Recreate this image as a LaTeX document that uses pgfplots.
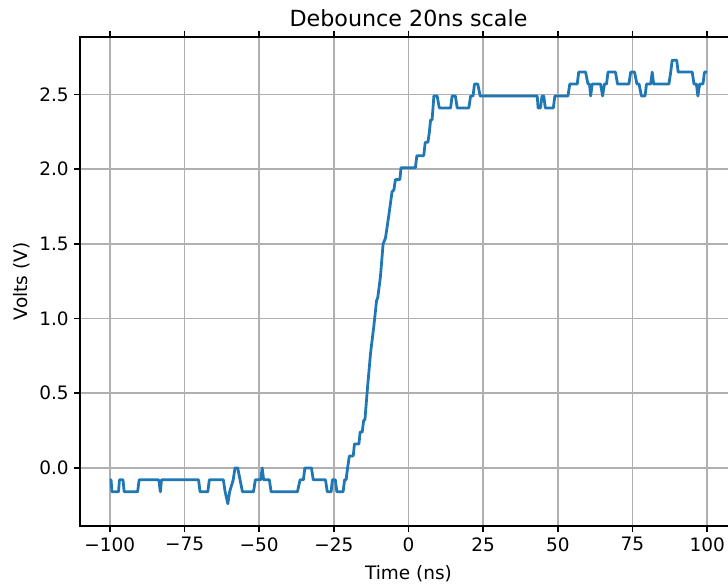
\documentclass[border=0pt]{standalone}
\usepackage{fontspec}
\setmainfont{DejaVu Sans}
\usepackage{pgfplots}
\pgfplotsset{compat=1.18}
\definecolor{mplblue}{HTML}{1F77B4}
\definecolor{gridgray}{HTML}{B0B0B0}
\begin{document}
\begin{tikzpicture}
\useasboundingbox (0pt,0pt) rectangle (524.16pt,420.48pt);
\clip (0pt,0pt) rectangle (524.16pt,420.48pt);
\begin{axis}[
  at={(57.6pt,41.76pt)}, anchor=south west,
  scale only axis, width=473.04pt, height=352.08pt,
  xmin=-110, xmax=110, ymin=-0.389, ymax=2.885,
  xtick={-100,-75,-50,-25,0,25,50,75,100},
  xticklabels={−100,−75,−50,−25,0,25,50,75,100},
  ytick={0,0.5,1,1.5,2,2.5},
  yticklabels={0.0,0.5,1.0,1.5,2.0,2.5},
  tick align=outside, major tick length=4.6pt,
  tick style={black, line width=1.05pt},
  tick label style={font=\fontsize{13.3}{15}\selectfont},
  axis line style={line width=1.05pt},
  grid=major, grid style={gridgray, line width=1.05pt},
  title={Debounce 20ns scale},
  title style={font=\fontsize{16}{19}\selectfont, yshift=-2pt},
  xlabel={Time (ns)}, ylabel={Volts (V)},
  label style={font=\fontsize{13.3}{15}\selectfont},
  xlabel style={yshift=-3pt},
  ylabel style={yshift=0pt},
]
\addplot[mplblue, line width=2pt, line join=round] coordinates {
(-100,-0.08) (-99.6,-0.08) (-99.3,-0.16) (-97.1,-0.16) (-96.8,-0.08) (-95.6,-0.08) (-95.2,-0.16) (-90.7,-0.16) (-90.2,-0.08) (-83.6,-0.08) (-83.1,-0.16) (-82.7,-0.08) (-70.3,-0.08) (-69.8,-0.16) (-67.2,-0.16) (-66.7,-0.08) (-62.0,-0.08) (-61.4,-0.16) (-60.5,-0.24) (-59.9,-0.16) (-58.7,-0.08) (-58.1,0.0) (-57.2,0.0) (-56.4,-0.08) (-55.6,-0.16) (-51.9,-0.16) (-51.3,-0.08) (-49.5,-0.08) (-49.0,0.0) (-48.5,-0.08) (-46.6,-0.08) (-46.0,-0.16) (-37.2,-0.16) (-36.3,-0.08) (-35.2,-0.08) (-34.7,0.0) (-32.5,0.0) (-31.9,-0.08) (-27.8,-0.08) (-27.2,-0.16) (-25.9,-0.16) (-25.5,-0.08) (-24.5,-0.08) (-24.0,-0.16) (-21.9,-0.16) (-21.4,-0.08) (-20.9,-0.08) (-20.4,0.0) (-19.8,0.08) (-18.5,0.08) (-18.1,0.16) (-16.6,0.16) (-16.2,0.24) (-15.5,0.24) (-15.0,0.32) (-14.6,0.32) (-13.8,0.52) (-12.7,0.77) (-11.6,0.95) (-10.7,1.12) (-10.3,1.14) (-9.4,1.28) (-8.5,1.50) (-7.7,1.54) (-6.6,1.69) (-5.5,1.85) (-4.9,1.86) (-4.4,1.93) (-2.9,1.93) (-2.5,2.01) (2.3,2.01) (2.8,2.09) (5.1,2.09) (5.6,2.18) (6.5,2.18) (7.0,2.25) (7.4,2.33) (7.9,2.33) (8.5,2.49) (9.6,2.49) (10.3,2.41) (14.1,2.41) (14.6,2.49) (15.7,2.49) (16.3,2.41) (20.2,2.41) (20.8,2.49) (21.6,2.49) (22.1,2.57) (23.2,2.57) (24.0,2.49) (43.1,2.49) (43.4,2.41) (44.2,2.41) (44.7,2.49) (45.3,2.49) (45.8,2.41) (48.5,2.41) (49.0,2.49) (53.4,2.49) (54.0,2.57) (56.5,2.57) (57.0,2.65) (59.3,2.65) (60.1,2.57) (60.6,2.57) (61.0,2.49) (61.5,2.57) (64.3,2.57) (65.0,2.49) (65.6,2.57) (66.3,2.57) (66.8,2.65) (69.3,2.65) (70.0,2.57) (73.8,2.57) (74.4,2.65) (75.7,2.65) (76.5,2.57) (77.2,2.57) (78.0,2.49) (79.2,2.49) (79.7,2.57) (81.1,2.57) (81.6,2.65) (82.1,2.57) (87.2,2.57) (87.8,2.65) (88.3,2.73) (89.8,2.73) (90.3,2.65) (95.0,2.65) (95.6,2.57) (96.4,2.57) (96.9,2.49) (97.5,2.57) (98.6,2.57) (99.1,2.65) (100,2.65)
};
\end{axis}
\end{tikzpicture}
\end{document}
